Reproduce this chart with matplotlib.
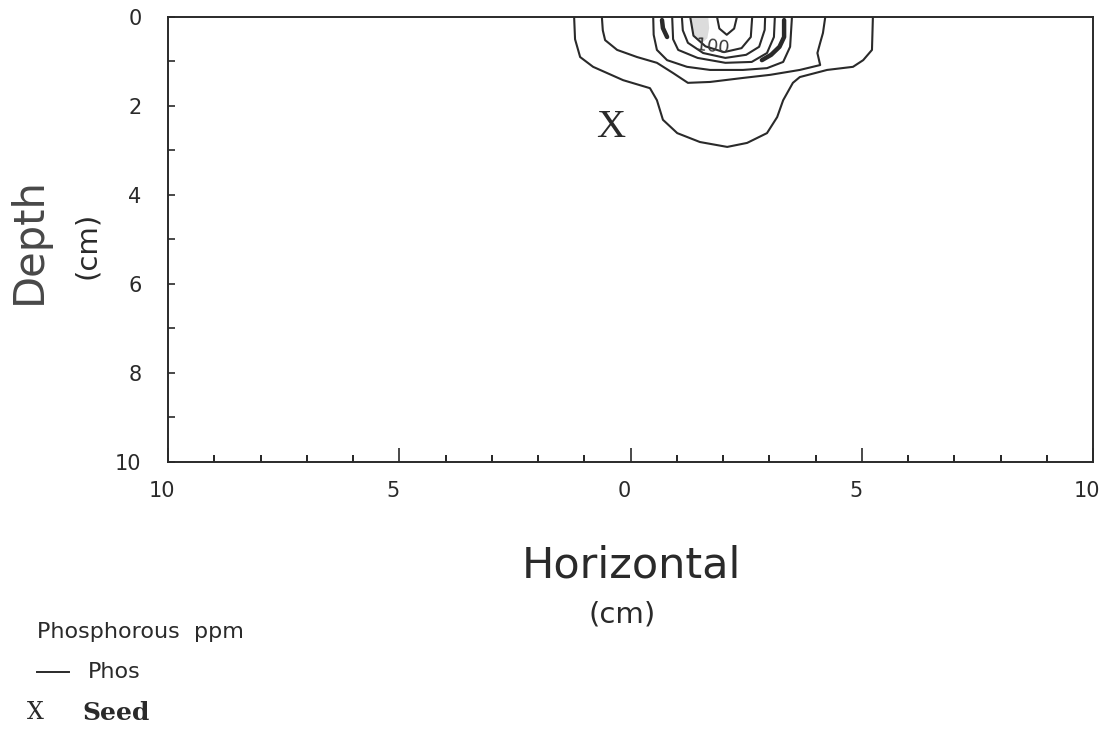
import numpy as np
import matplotlib.pyplot as plt
from matplotlib.ticker import MultipleLocator
from matplotlib.transforms import ScaledTranslation

# contour lines (x in cm, depth in cm)
outer_x = [-1.22, -1.20, -1.09, -0.81, -0.16, 0.42, 0.57, 0.70, 1.01, 1.50, 2.09,
           2.52, 2.95, 3.17, 3.30, 3.51, 3.66, 4.25, 4.81, 5.03, 5.22, 5.24]
outer_d = [0.00, 0.50, 0.90, 1.12, 1.42, 1.60, 1.87, 2.31, 2.61, 2.81, 2.92,
           2.83, 2.61, 2.25, 1.87, 1.48, 1.35, 1.19, 1.12, 0.97, 0.74, 0.00]

c2_x = [-0.62, -0.60, -0.55, -0.29, 0.14, 0.57, 0.92, 1.24, 1.72, 2.43, 3.02,
        3.66, 4.10, 4.04, 4.10, 4.16, 4.21]
c2_d = [0.00, 0.30, 0.52, 0.74, 0.90, 1.03, 1.26, 1.48, 1.46, 1.37, 1.30,
        1.19, 1.08, 0.81, 0.58, 0.36, 0.00]

c3_x = [0.49, 0.50, 0.57, 0.79, 1.22, 1.72, 2.43, 2.95, 3.30, 3.45, 3.49]
c3_d = [0.00, 0.40, 0.74, 0.97, 1.12, 1.19, 1.19, 1.15, 1.01, 0.67, 0.00]

c4_x = [0.90, 0.92, 1.03, 1.45, 2.05, 2.62, 2.95, 3.10, 3.12]
c4_d = [0.00, 0.50, 0.74, 0.92, 1.03, 1.01, 0.81, 0.45, 0.00]

c5_x = [1.11, 1.13, 1.24, 1.57, 2.05, 2.50, 2.78, 2.90, 2.91]
c5_d = [0.00, 0.30, 0.58, 0.81, 0.92, 0.85, 0.67, 0.29, 0.00]

c6_x = [1.29, 1.36, 1.62, 2.02, 2.40, 2.60, 2.63]
c6_d = [0.00, 0.42, 0.66, 0.79, 0.70, 0.45, 0.00]

c7_x = [1.87, 1.92, 2.08, 2.24, 2.30]
c7_d = [0.00, 0.26, 0.40, 0.26, 0.00]

# the heavy (100 ppm) pieces
bold_l_x = [0.68, 0.70, 0.79]
bold_l_d = [0.07, 0.25, 0.45]
bold_r_x = [3.32, 3.32, 3.22, 3.04, 2.84]
bold_r_d = [0.07, 0.45, 0.67, 0.85, 0.97]

# shaded patch near the surface
shade_x = [1.29, 1.33, 1.42, 1.55, 1.66, 1.70, 1.68]
shade_d = [0.00, 0.30, 0.50, 0.58, 0.48, 0.25, 0.00]

contours = [(outer_x, outer_d), (c2_x, c2_d), (c3_x, c3_d), (c4_x, c4_d),
            (c5_x, c5_d), (c6_x, c6_d), (c7_x, c7_d)]

seed_x, seed_d = -0.44, 2.49
label_x, label_d = 1.76, 0.67

x_ticks = [-10, -5, 0, 5, 10]
x_labels = ['10', '5', '0', '5', '10']

ink = '#2a2a2a'

fig = plt.figure(figsize=(11.07, 7.32), dpi=100)
ax = fig.add_axes([0.1518, 0.3689, 0.8356, 0.6079])

ax.fill(shade_x, shade_d, color='#dcdcdc', lw=0)
for cx, cd in contours:
    ax.plot(cx, cd, color=ink, lw=1.5)
ax.plot(bold_l_x, bold_l_d, color=ink, lw=3.2, solid_capstyle='round')
ax.plot(bold_r_x, bold_r_d, color=ink, lw=3.2, solid_capstyle='round')
ax.text(label_x, label_d, '100', fontsize=13, color='#3a3a3a', ha='center', va='center', rotation=-6)

ax.text(seed_x, seed_d, 'X', family='Liberation Serif', fontsize=29, color=ink,
        ha='center', va='center')

ax.set_xlim(-10, 10)
ax.set_ylim(10, 0)
ax.set_xticks(x_ticks, x_labels)
ax.xaxis.set_minor_locator(MultipleLocator(1))
ax.yaxis.set_major_locator(MultipleLocator(2))
ax.yaxis.set_minor_locator(MultipleLocator(1))
ax.tick_params(axis='x', which='major', direction='in', length=10, width=1.2, pad=14,
               labelsize=15, colors=ink)
ax.tick_params(axis='x', which='minor', direction='in', length=5, width=1.2)
ax.tick_params(axis='y', which='both', direction='in', length=5, width=1.2, pad=19,
               labelsize=15, colors=ink)
shift = ScaledTranslation(-6 / 100, 0, fig.dpi_scale_trans)
for lab in ax.get_xticklabels():
    lab.set_transform(lab.get_transform() + shift)
for s in ax.spines.values():
    s.set_linewidth(1.4)
    s.set_color(ink)

fig.text(0.026, 0.672, 'Depth', rotation=90, fontsize=30, color='#484848', ha='center', va='center')
fig.text(0.079, 0.665, '(cm)', rotation=90, fontsize=21, color=ink, ha='center', va='center')
fig.text(0.570, 0.227, 'Horizontal', fontsize=31, color=ink, ha='center', va='center')
fig.text(0.562, 0.161, '(cm)', fontsize=21, color=ink, ha='center', va='center')

fig.text(0.033, 0.136, 'Phosphorous  ppm', fontsize=16, color=ink, ha='left', va='center')
fig.lines.append(plt.Line2D([0.033, 0.062], [0.082, 0.082], transform=fig.transFigure,
                            color=ink, lw=1.4))
fig.text(0.079, 0.082, 'Phos', fontsize=16, color=ink, ha='left', va='center')
fig.text(0.024, 0.026, 'X', family='DejaVu Serif', fontsize=17, color=ink, ha='left', va='center')
fig.text(0.074, 0.026, 'Seed', family='DejaVu Serif', fontsize=18, fontweight='bold',
         color=ink, ha='left', va='center')

fig.savefig('out.png', dpi=100)
